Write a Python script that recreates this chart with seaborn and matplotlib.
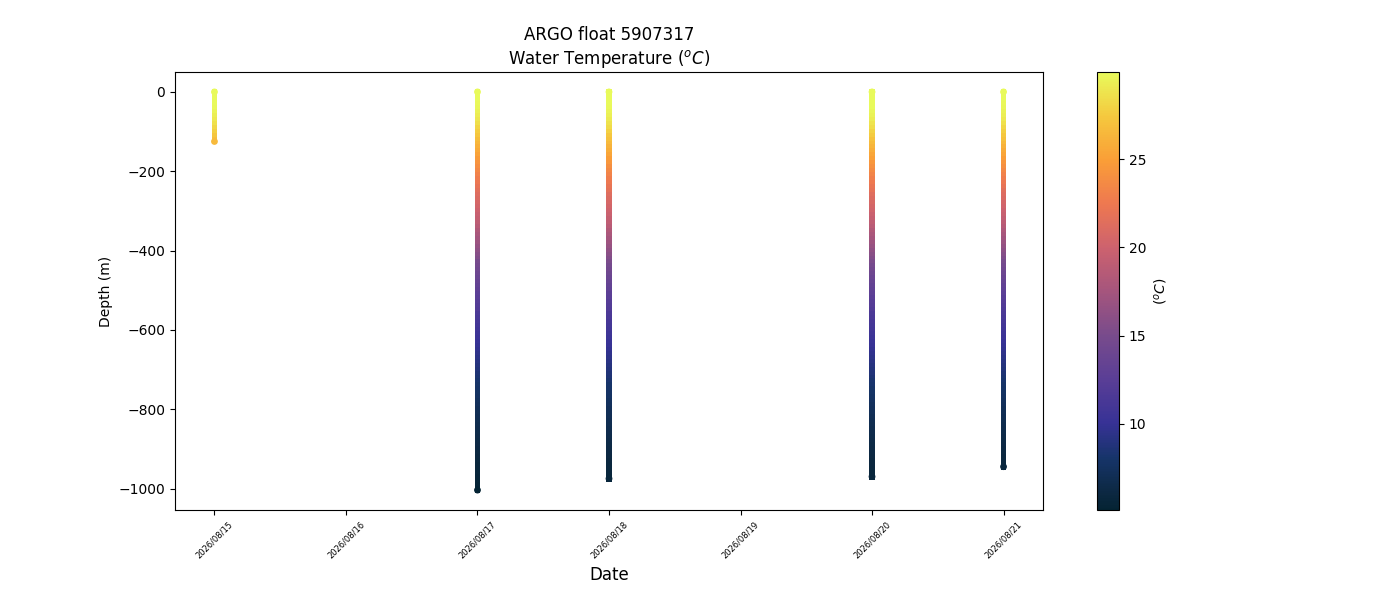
import pandas as pd
import matplotlib
matplotlib.use("Agg")
import matplotlib.pyplot as plt
import matplotlib.dates as mdates
from matplotlib.colors import LinearSegmentedColormap, Normalize
from matplotlib.cm import ScalarMappable
import seaborn as sns

# profile dates and bottom depth of each profile (m)
profile_dates = ["2026-08-15", "2026-08-17", "2026-08-18", "2026-08-20", "2026-08-21"]
bottom_depths = [125, 1004, 975, 970, 945]

# temperatures every 10 m from the surface, last value at bottom depth
temp_0815 = [29.95, 29.9, 29.9, 29.9, 29.8, 29.6, 29.3, 29.0, 28.6, 28.2,
             27.8, 27.3, 26.9, 26.6]
temp_0817 = [29.9, 29.9, 29.9, 29.8, 29.7, 29.5, 29.2, 28.9, 28.5, 28.1,
             27.7, 27.3, 26.8, 26.4, 26.0, 25.6, 25.2, 24.8, 24.3, 23.9,
             23.5, 23.1, 22.7, 22.3, 21.9, 21.6, 21.3, 21.0, 20.6, 20.3,
             20.0, 19.7, 19.4, 19.0, 18.6, 18.2, 17.8, 17.4, 17.0, 16.6,
             16.2, 15.8, 15.4, 15.0, 14.7, 14.4, 14.1, 13.8, 13.5, 13.2,
             12.9, 12.6, 12.4, 12.2, 12.0, 11.8, 11.5, 11.3, 11.1, 10.9,
             10.7, 10.5, 10.3, 10.1, 9.9, 9.7, 9.5, 9.3, 9.1, 8.9,
             8.7, 8.5, 8.4, 8.2, 8.0, 7.9, 7.7, 7.6, 7.4, 7.3,
             7.1, 7.0, 6.9, 6.8, 6.7, 6.6, 6.5, 6.4, 6.3, 6.2,
             6.1, 6.0, 5.9, 5.8, 5.7, 5.7, 5.6, 5.5, 5.4, 5.3,
             5.2, 5.1]
temp_0818 = [29.9, 29.9, 29.9, 29.9, 29.8, 29.6, 29.4, 29.1, 28.7, 28.3,
             27.9, 27.4, 27.0, 26.6, 26.2, 25.8, 25.3, 24.9, 24.5, 24.0,
             23.6, 23.2, 22.8, 22.4, 22.0, 21.7, 21.3, 21.0, 20.7, 20.4,
             20.1, 19.8, 19.4, 19.1, 18.7, 18.3, 17.9, 17.5, 17.1, 16.7,
             16.3, 15.9, 15.5, 15.1, 14.8, 14.5, 14.2, 13.9, 13.6, 13.3,
             13.0, 12.7, 12.5, 12.2, 12.0, 11.8, 11.6, 11.4, 11.2, 11.0,
             10.8, 10.6, 10.4, 10.2, 10.0, 9.8, 9.6, 9.4, 9.2, 9.0,
             8.8, 8.6, 8.5, 8.3, 8.1, 8.0, 7.8, 7.7, 7.5, 7.4,
             7.2, 7.1, 7.0, 6.9, 6.8, 6.7, 6.6, 6.5, 6.4, 6.3,
             6.2, 6.1, 6.0, 5.9, 5.8, 5.8, 5.7, 5.6,
             5.6]
temp_0820 = [29.95, 29.9, 29.9, 29.9, 29.9, 29.7, 29.5, 29.2, 28.8, 28.4,
             28.0, 27.6, 27.1, 26.7, 26.3, 25.9, 25.4, 25.0, 24.5, 24.1,
             23.7, 23.3, 22.9, 22.5, 22.1, 21.8, 21.4, 21.1, 20.8, 20.5,
             20.2, 19.8, 19.5, 19.1, 18.7, 18.3, 17.9, 17.5, 17.1, 16.7,
             16.3, 15.9, 15.5, 15.2, 14.9, 14.5, 14.2, 13.9, 13.6, 13.3,
             13.0, 12.8, 12.5, 12.3, 12.1, 11.8, 11.6, 11.4, 11.2, 11.0,
             10.8, 10.6, 10.4, 10.2, 10.0, 9.8, 9.6, 9.4, 9.2, 9.0,
             8.8, 8.7, 8.5, 8.3, 8.2, 8.0, 7.9, 7.7, 7.6, 7.4,
             7.3, 7.2, 7.0, 6.9, 6.8, 6.7, 6.6, 6.5, 6.4, 6.3,
             6.2, 6.1, 6.0, 5.9, 5.9, 5.8, 5.7,
             5.7]
temp_0821 = [29.9, 29.9, 29.9, 29.8, 29.7, 29.5, 29.3, 29.0, 28.6, 28.2,
             27.8, 27.4, 27.0, 26.6, 26.1, 25.7, 25.3, 24.9, 24.4, 24.0,
             23.5, 23.1, 22.7, 22.3, 21.9, 21.5, 21.2, 20.9, 20.5, 20.2,
             19.9, 19.6, 19.2, 18.9, 18.5, 18.1, 17.7, 17.3, 16.9, 16.5,
             16.1, 15.7, 15.3, 15.0, 14.6, 14.3, 14.0, 13.7, 13.4, 13.1,
             12.8, 12.6, 12.3, 12.1, 11.9, 11.7, 11.5, 11.3, 11.1, 10.9,
             10.7, 10.5, 10.3, 10.1, 9.9, 9.7, 9.5, 9.3, 9.1, 8.9,
             8.7, 8.5, 8.4, 8.2, 8.0, 7.9, 7.7, 7.6, 7.4, 7.3,
             7.1, 7.0, 6.9, 6.8, 6.7, 6.6, 6.5, 6.4, 6.3, 6.2,
             6.1, 6.0, 5.9, 5.9, 5.8,
             5.8]
profile_temps = [temp_0815, temp_0817, temp_0818, temp_0820, temp_0821]

# approximation of cmocean "thermal"
thermal_stops = [(0.0, "#042333"), (0.036, "#0c2841"), (0.117, "#163469"),
                 (0.197, "#373296"), (0.298, "#5a3e96"), (0.398, "#784b8c"),
                 (0.499, "#a5557d"), (0.6, "#cd626e"), (0.70, "#ee7850"),
                 (0.80, "#fa9e37"), (0.90, "#f5c83e"), (1.0, "#e8fa5b")]
cmap = LinearSegmentedColormap.from_list("thermal_like", thermal_stops)

rows = []
for d, bottom, temps in zip(profile_dates, bottom_depths, profile_temps):
    depths = list(range(0, bottom, 10)) + [bottom]
    assert len(depths) == len(temps), (d, len(depths), len(temps))
    for z, t in zip(depths, temps):
        rows.append({"date": pd.Timestamp(d), "depth": -z, "temp": t})
df = pd.DataFrame(rows)

norm = Normalize(vmin=df["temp"].min(), vmax=df["temp"].max())

fig, ax = plt.subplots(figsize=(14, 6))
# square markers so each profile reads as a solid strip, round caps at the ends
sns.scatterplot(data=df, x="date", y="depth", hue="temp", palette=cmap,
                hue_norm=norm, s=18, marker="s", linewidth=0, legend=False, ax=ax)
grouped = df.groupby("date")
end_rows = pd.concat([grouped.head(1), grouped.tail(1)])
sns.scatterplot(data=end_rows, x="date", y="depth", hue="temp", palette=cmap,
                hue_norm=norm, s=24, linewidth=0, legend=False, ax=ax)

cbar = fig.colorbar(ScalarMappable(norm=norm, cmap=cmap), ax=ax)
cbar.set_label("$(^oC)$")

ax.xaxis.set_major_locator(mdates.DayLocator())
ax.xaxis.set_major_formatter(mdates.DateFormatter("%Y/%m/%d"))
plt.setp(ax.get_xticklabels(), rotation=45, fontsize=6)
ax.set_xlabel("Date", fontsize=12)
ax.set_ylabel("Depth (m)")
ax.set_title("ARGO float 5907317\nWater Temperature ($^oC$)")

fig.subplots_adjust(bottom=0.15)
fig.savefig("out.png", dpi=100)
